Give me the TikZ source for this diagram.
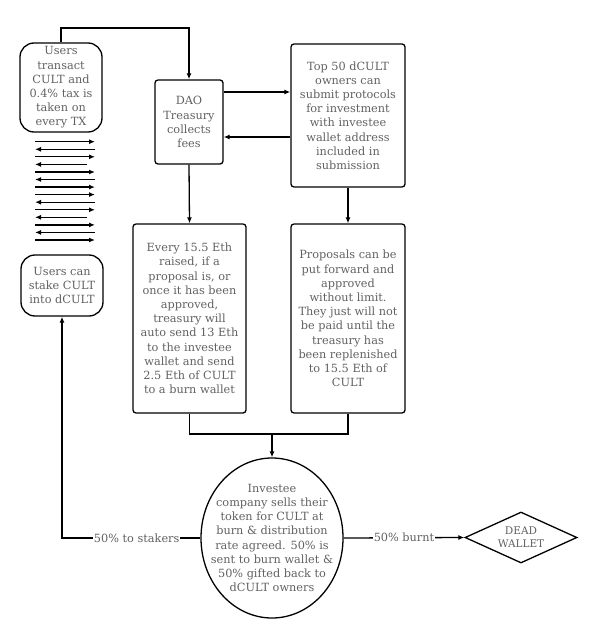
\documentclass[tikz,border=0pt]{standalone}
\usepackage{fontspec}
\setmainfont{DejaVu Serif}
\usetikzlibrary{arrows.meta,shapes.geometric}
\tikzset{
  base/.style={draw=black, line width=1.3pt, align=center, text=black!62,
    font=\fontsize{11.3}{14.2}\selectfont, inner sep=0pt},
  roundbox/.style={base, rounded corners=14pt},
  stepbox/.style={base, rounded corners=3pt},
  ovalnode/.style={draw=black, line width=1.3pt, ellipse, inner sep=0pt},
  plaintext/.style={align=center, text=black!62, font=\fontsize{11.3}{14.2}\selectfont, inner sep=0pt},
  deadnode/.style={base, diamond, aspect=2.2},
  arr/.style={line width=1.3pt, -{Latex[length=6pt,width=5pt]}},
  ln/.style={line width=1.3pt},
  lbl/.style={fill=white, text=black!62, inner sep=0.5pt, font=\fontsize{11.3}{13}\selectfont},
}
\begin{document}
\begin{tikzpicture}[x=1pt,y=-1pt]
\useasboundingbox (0,0) rectangle (600,628);
% nodes
\node[roundbox, minimum width=82pt, minimum height=89pt] (ut) at (61,87.5)
  {Users\\transact\\CULT and\\0.4\% tax is\\taken on\\every TX};
\node[roundbox, minimum width=82pt, minimum height=61pt] (stake) at (62,285.5)
  {Users can\\stake CULT\\into dCULT};
\node[stepbox, minimum width=68pt, minimum height=84pt] (dao) at (189,122)
  {DAO\\Treasury\\collects\\fees};
\node[stepbox, minimum width=114pt, minimum height=143pt] (top) at (348,115.5)
  {Top 50 dCULT\\owners can\\submit protocols\\for investment\\with investee\\wallet address\\included in\\submission};
\node[stepbox, minimum width=113pt, minimum height=189pt] (every) at (189.5,318.5)
  {Every 15.5 Eth\\raised, if a\\proposal is, or\\once it has been\\approved,\\treasury will\\auto send 13 Eth\\to the investee\\wallet and send\\2.5 Eth of CULT\\to a burn wallet};
\node[stepbox, minimum width=114pt, minimum height=189pt] (prop) at (348,318.5)
  {Proposals can be\\put forward and\\approved\\without limit.\\They just will not\\be paid until the\\treasury has\\been replenished\\to 15.5 Eth of\\CULT};
\node[ovalnode, minimum width=142pt, minimum height=160pt] (ell) at (272,538) {};
\node[plaintext] (elltext) at (ell.center)
  {Investee\\company sells their\\token for CULT at\\burn \& distribution\\rate agreed. 50\% is\\sent to burn wallet \&\\50\% gifted back to\\dCULT owners};
\node[deadnode, minimum width=112pt, minimum height=51pt, font=\fontsize{10.5}{13}\selectfont] (dead) at (521,537.5)
  {DEAD\\WALLET};
% connectors
\coordinate (topleft) at (ut.north |- 0,28);
\draw[arr] (ut.north) -- (topleft) -| (dao.north);
\draw[arr] (dao.east |- 0,92) -- (top.west |- 0,92);
\draw[arr] (top.west |- 0,137) -- (dao.east |- 0,137);
\draw[arr] (dao.south) -- (every.north);
\draw[arr] (top.south) -- (prop.north);
\coordinate (mergeL) at (every.south |- 0,434);
\coordinate (mergeR) at (prop.south |- 0,434);
\draw[ln] (every.south) -- (mergeL) -- (mergeR) -- (prop.south);
\draw[arr] (ell.north |- 0,434) -- (ell.north);
\coordinate (stakecorner) at (stake.south |- ell.west);
\draw[arr] (ell.west) -- node[lbl, pos=0.46] {50\% to stakers} (stakecorner) -- (stake.south);
\draw[arr] (ell.east) -- node[lbl, pos=0.5] {50\% burnt} (dead.west);
% transaction arrows
\foreach \yy in {141.7,156.8,172,187.1,194.6,209.8,224.9,240}
  \draw[arr] (35,\yy) -- (95,\yy);
\foreach \yy in {149.3,179.5,202.2,232.4}
  \draw[arr] (95,\yy) -- (35,\yy);
\foreach \yy in {164.4,217.3}
  \draw[arr] (87,\yy) -- (35,\yy);
\end{tikzpicture}
\end{document}
